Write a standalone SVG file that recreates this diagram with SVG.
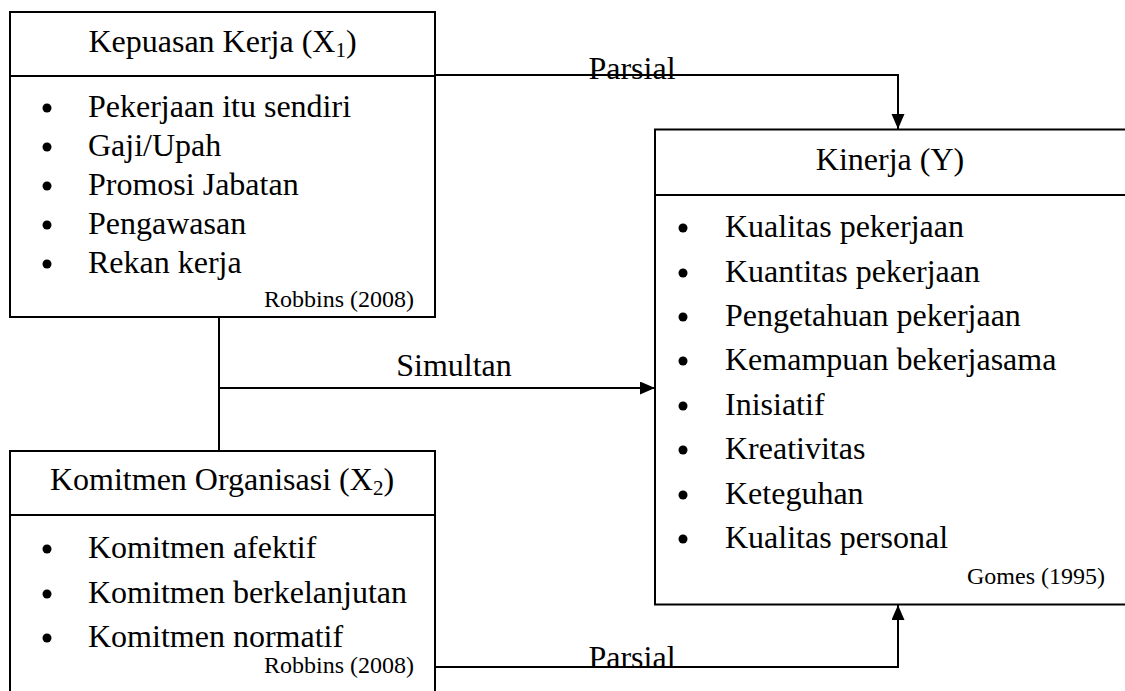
<svg xmlns="http://www.w3.org/2000/svg" width="1125" height="691" viewBox="0 0 1125 691">
<defs>
<style>
.box{fill:#fff;stroke:#000;stroke-width:2}
.ln{fill:none;stroke:#000;stroke-width:2}
.t{font-family:"Liberation Serif","Times New Roman",serif;font-size:32px;fill:#000}
.s{font-family:"Liberation Serif","Times New Roman",serif;font-size:24px;fill:#000}
.mid{text-anchor:middle}
.end{text-anchor:end}
.sub{font-size:21px}
</style>
<marker id="arr" markerUnits="userSpaceOnUse" markerWidth="16" markerHeight="14" refX="15" refY="6.5" orient="auto">
<path d="M0,0 L15,6.5 L0,13 z" fill="#000"/>
</marker>
</defs>
<rect width="1125" height="691" fill="#fff"/>

<g id="connectors">
<path class="ln" d="M435,75 H898 V129" marker-end="url(#arr)"/>
<path class="ln" d="M435,667 H898 V605" marker-end="url(#arr)"/>
<path class="ln" d="M219,317 V451"/>
<path class="ln" d="M219,388 H655" marker-end="url(#arr)"/>
<text class="t mid" x="632" y="79">Parsial</text>
<text class="t mid" x="632" y="668">Parsial</text>
<text class="t mid" x="454" y="376">Simultan</text>
</g>

<g id="x1">
<rect class="box" x="10" y="12" width="425" height="305"/>
<line class="ln" x1="10" y1="76" x2="435" y2="76"/>
<text class="t mid" x="222.5" y="52">Kepuasan Kerja (X<tspan class="sub" dy="5">1</tspan><tspan dy="-5">)</tspan></text>
<g fill="#000">
<circle cx="47" cy="108" r="4.5"/>
<circle cx="47" cy="147" r="4.5"/>
<circle cx="47" cy="186" r="4.5"/>
<circle cx="47" cy="225" r="4.5"/>
<circle cx="47" cy="264" r="4.5"/>
</g>
<text class="t" x="88" y="117">Pekerjaan itu sendiri</text>
<text class="t" x="88" y="156">Gaji/Upah</text>
<text class="t" x="88" y="195">Promosi Jabatan</text>
<text class="t" x="88" y="234">Pengawasan</text>
<text class="t" x="88" y="273">Rekan kerja</text>
<text class="s end" x="414" y="307">Robbins (2008)</text>
</g>

<g id="x2">
<rect class="box" x="10" y="451" width="425" height="245"/>
<line class="ln" x1="10" y1="515" x2="435" y2="515"/>
<text class="t mid" x="222" y="490">Komitmen Organisasi (X<tspan class="sub" dy="5">2</tspan><tspan dy="-5">)</tspan></text>
<g fill="#000">
<circle cx="47" cy="549" r="4.5"/>
<circle cx="47" cy="594" r="4.5"/>
<circle cx="47" cy="638" r="4.5"/>
</g>
<text class="t" x="88" y="558">Komitmen afektif</text>
<text class="t" x="88" y="603">Komitmen berkelanjutan</text>
<text class="t" x="88" y="647">Komitmen normatif</text>
<text class="s end" x="414" y="673">Robbins (2008)</text>
</g>

<g id="y">
<rect class="box" x="655" y="129.5" width="472" height="475"/>
<line class="ln" x1="655" y1="195" x2="1127" y2="195"/>
<text class="t mid" x="890" y="170">Kinerja (Y)</text>
<g fill="#000">
<circle cx="683" cy="228" r="4.5"/>
<circle cx="683" cy="273" r="4.5"/>
<circle cx="683" cy="317" r="4.5"/>
<circle cx="683" cy="361" r="4.5"/>
<circle cx="683" cy="406" r="4.5"/>
<circle cx="683" cy="450" r="4.5"/>
<circle cx="683" cy="495" r="4.5"/>
<circle cx="683" cy="539" r="4.5"/>
</g>
<text class="t" x="725" y="237">Kualitas pekerjaan</text>
<text class="t" x="725" y="282">Kuantitas pekerjaan</text>
<text class="t" x="725" y="326">Pengetahuan pekerjaan</text>
<text class="t" x="725" y="370">Kemampuan bekerjasama</text>
<text class="t" x="725" y="415">Inisiatif</text>
<text class="t" x="725" y="459">Kreativitas</text>
<text class="t" x="725" y="504">Keteguhan</text>
<text class="t" x="725" y="548">Kualitas personal</text>
<text class="s end" x="1105" y="584">Gomes (1995)</text>
</g>
</svg>
